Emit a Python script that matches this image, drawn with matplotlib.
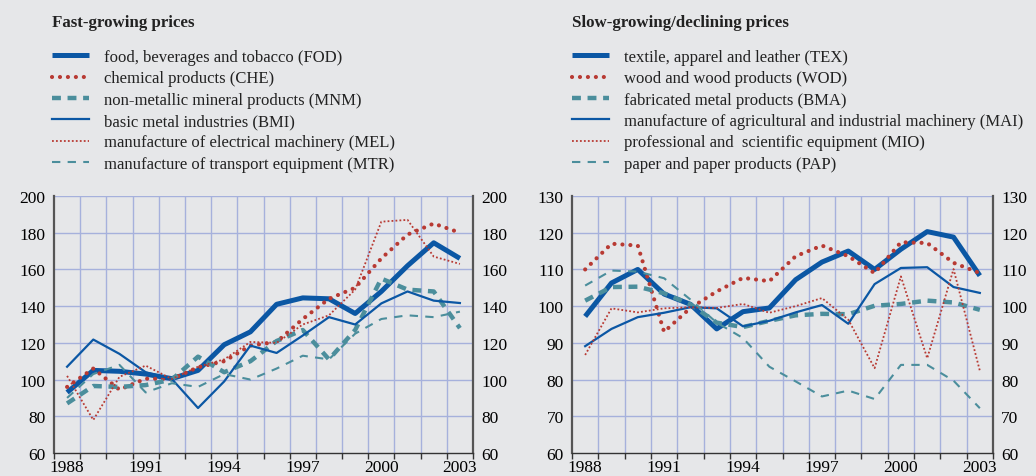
import matplotlib
matplotlib.use("Agg")
import matplotlib.pyplot as plt
from matplotlib.lines import Line2D
import numpy as np

plt.rcParams['font.family'] = ['Liberation Serif', 'DejaVu Serif']

years = list(range(1988, 2004))
tick_years = [1988, 1991, 1994, 1997, 2000, 2003]

# Fast-growing prices
FOD = [93, 105, 104.5, 103, 100.5, 105, 119, 126, 141, 144.5, 144, 136, 148, 162, 174.5, 166]
CHE = [96, 106, 94.5, 100.5, 100.3, 106.7, 110, 118.5, 120.5, 133, 144, 150, 166, 179, 185, 180]
MNM = [87, 96.5, 96, 97, 100, 112.5, 104, 110, 121, 127, 111, 127, 155, 149, 148, 128]
BMI = [107, 121.8, 114, 104, 100.3, 84.5, 99, 118.5, 114.5, 124, 134, 130, 141.5, 148, 143, 141.7]
MEL = [102, 78, 101.5, 107.6, 100.3, 107, 111, 120.5, 120, 130, 135, 149, 186, 187, 167, 163]
MTR = [90, 103, 108, 93, 98, 96, 103, 100, 106, 113, 111, 125, 133, 135, 134, 137]

# Slow-growing / declining prices
TEX = [97.2, 106.3, 110, 103.3, 100.5, 93.8, 98.5, 99.5, 107.2, 112, 115, 110, 115.5, 120.3, 118.8, 108.3]
WOD = [110, 117, 116.5, 93, 99.5, 104, 107.7, 106.8, 113.6, 116.5, 113.6, 109, 117.4, 117.2, 111.8, 109]
BMA = [101.5, 105.2, 105.3, 103.5, 100.5, 95.5, 94.3, 96, 97.5, 97.9, 97.8, 100.1, 100.6, 101.5, 101, 99]
MAI = [89.1, 93.8, 97, 98.2, 99.7, 99.4, 94.5, 96, 98.3, 100.3, 95.2, 106, 110.4, 110.6, 105.2, 103.6]
MIO = [86.7, 99.4, 98.3, 99.4, 99.7, 99.5, 100.6, 98.2, 100, 102.2, 96.3, 83.1, 108.1, 85.8, 110.1, 82.4]
PAP = [105.6, 109.7, 109.4, 107.6, 101.8, 95.5, 91.3, 83.5, 79.5, 75.4, 77, 74.7, 84, 84, 79.7, 72.2]

left_labels = ["food, beverages and tobacco (FOD)", "chemical products (CHE)",
               "non-metallic mineral products (MNM)", "basic metal industries (BMI)",
               "manufacture of electrical machinery (MEL)", "manufacture of transport equipment (MTR)"]
right_labels = ["textile, apparel and leather (TEX)", "wood and wood products (WOD)",
                "fabricated metal products (BMA)",
                "manufacture of agricultural and industrial machinery (MAI)",
                "professional and  scientific equipment (MIO)", "paper and paper products (PAP)"]

BLUE = '#0b57a4'
RED = '#b83a33'
TEAL = '#4b8e9c'
BG = '#e6e7e9'
GRID = '#a6b1dc'

styles = [
    dict(color=BLUE, lw=3.6, ls='-', solid_capstyle='butt'),
    dict(color=RED, lw=3.0, ls=(0, (0.01, 1.9)), dash_capstyle='round'),
    dict(color=TEAL, lw=3.2, ls=(0, (2.0, 1.5)), dash_capstyle='butt'),
    dict(color=BLUE, lw=1.6, ls='-'),
    dict(color=RED, lw=1.3, ls=(0, (1, 1.2))),
    dict(color=TEAL, lw=1.5, ls=(0, (4, 3.5))),
]

fig = plt.figure(figsize=(10.36, 4.77), dpi=100, facecolor=BG)

def make_panel(rect, series, labels, ylim, ystep, title, title_x):
    ax = fig.add_axes(rect)
    ax.set_facecolor(BG)
    x = np.arange(len(years))
    for s, st in zip(series, styles):
        ax.plot(x, s, **st)
    ax.set_xlim(-0.5, len(years) - 0.5)
    ax.set_ylim(*ylim)
    for b in np.arange(0.5, len(years) - 0.5, 1.0):
        ax.axvline(b, color=GRID, lw=1.0, zorder=0)
    yt = np.arange(ylim[0], ylim[1] + 0.1, ystep)
    for v in yt[1:]:
        ax.axhline(v, color=GRID, lw=1.0, zorder=0)
    ax.set_yticks(yt)
    ax.tick_params(axis='y', which='both', length=0, labelsize=12.5, pad=6,
                   left=True, right=True, labelleft=True, labelright=True)
    ax.set_xticks([years.index(y) for y in tick_years])
    ax.set_xticklabels([str(y) for y in tick_years])
    ax.set_xticks(np.arange(-0.5, len(years), 1.0), minor=True)
    ax.tick_params(axis='x', which='major', length=0, labelsize=12.5, pad=4)
    ax.tick_params(axis='x', which='minor', length=4, width=1.0, color='#333333', direction='out')
    for sp in ['left', 'right']:
        ax.spines[sp].set_color('#555555')
        ax.spines[sp].set_linewidth(1.6)
    ax.spines['bottom'].set_color('#333333')
    ax.spines['bottom'].set_linewidth(1.0)
    ax.spines['top'].set_visible(False)
    fig.text(title_x, 1 - 23 / 477, title, fontsize=12.2, fontweight='bold',
             va='center', ha='left', color='#222222')
    handles = [Line2D([], [], **st) for st in styles]
    fig.legend(handles, labels, loc='upper left', bbox_to_anchor=(title_x, 1 - 50 / 477),
               bbox_transform=fig.transFigure, frameon=False, fontsize=12,
               handlelength=2.2, handletextpad=0.95, borderpad=0, borderaxespad=0,
               labelspacing=0.32, labelcolor='#222222')
    return ax

make_panel([54 / 1036, 23 / 477, 419 / 1036, 257 / 477],
           [FOD, CHE, MNM, BMI, MEL, MTR], left_labels, (60, 200), 20,
           "Fast-growing prices", 52 / 1036)
make_panel([572 / 1036, 23 / 477, 421 / 1036, 257 / 477],
           [TEX, WOD, BMA, MAI, MIO, PAP], right_labels, (60, 130), 10,
           "Slow-growing/declining prices", 572 / 1036)

fig.savefig("out.png", dpi=100, facecolor=BG)
